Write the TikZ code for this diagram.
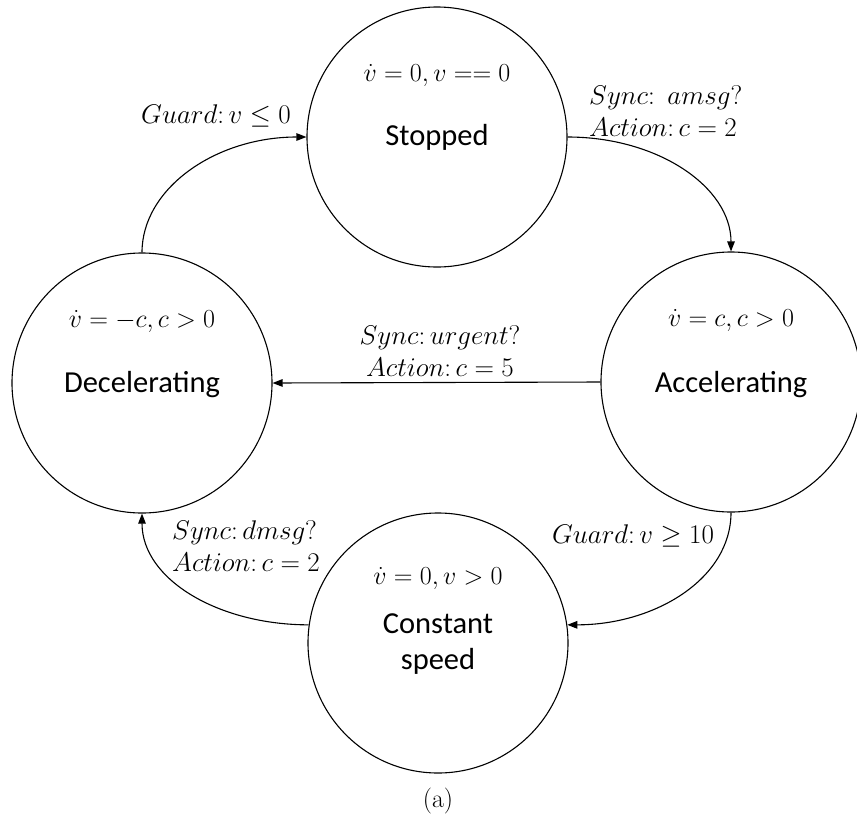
\RequirePackage{fix-cm}
\documentclass[tikz,border=0pt]{standalone}
\usepackage{fontspec}
\newfontfamily\statefont{Carlito}
\usetikzlibrary{arrows.meta,calc}
\begin{document}
\begin{tikzpicture}[x=1pt,y=-1pt,
  state/.style={draw,circle,line width=1.1pt,minimum size=260pt,inner sep=0pt},
  statename/.style={font=\statefont\fontsize{30.5}{36}\selectfont,align=center,inner sep=0pt},
  stateeq/.style={font=\fontsize{26}{30}\selectfont,inner sep=0pt},
  edgelbl/.style={font=\fontsize{27}{32}\selectfont,inner sep=0pt},
  trans/.style={line width=1.1pt,-{Triangle[length=10pt,width=7.5pt]}}]
\useasboundingbox (0,0) rectangle (857,820);

% states
\node[state] (S) at (437,137) {};
\node[state] (D) at (142,383) {};
\node[state] (A) at (731,382) {};
\node[state] (C) at (438,643) {};

% state contents: flow equation above, name at the centre
\node[stateeq] (Seq) at ($(S)+(0,-62)$) {$\dot v = 0, v == 0$};
\node[statename] (Sn) at (S) {Stopped};
\node[stateeq] (Deq) at ($(D)+(0,-62)$) {$\dot v = -c, c > 0$};
\node[statename] (Dn) at ($(D)+(0,2)$) {Decelerating};
\node[stateeq] (Aeq) at ($(A)+(0,-62)$) {$\dot v = c, c > 0$};
\node[statename] (An) at ($(A)+(0,3)$) {Accelerating};
\node[stateeq] (Ceq) at ($(C)+(0,-65)$) {$\dot v = 0, v > 0$};
\node[statename] (Cn) at ($(C)+(0,1)$) {Constant\\speed};

% transitions
\draw[trans] (D.north) .. controls ($(D.north)+(0,-64)$) and ($(S.west)+(-91,0)$) .. (S.west);
\draw[trans] (S.east) .. controls ($(S.east)+(91,0)$) and ($(A.north)+(0,-64)$) .. (A.north);
\draw[trans] (A.south) .. controls ($(A.south)+(0,66)$) and ($(C.8)+(88,0)$) .. (C.8);
\draw[trans] (C.172) .. controls ($(C.172)+(-90,0)$) and ($(D.south)+(0,66)$) .. (D.south);
\draw[trans] (A.west) -- (D.east);

% transition labels
\node[edgelbl] (g1) at (216,116) {$Guard\colon v \leq 0$};
\node[edgelbl,anchor=west,align=left] (l1) at (589,111) {$Sync\colon\ amsg?$\\$Action\colon c = 2$};
\node[edgelbl,align=center] (l2) at (440,351) {$Sync\colon urgent?$\\$Action\colon c = 5$};
\node[edgelbl,anchor=west,align=left] (l3) at (172,546) {$Sync\colon dmsg?$\\$Action\colon c = 2$};
\node[edgelbl] (g2) at (633,536) {$Guard\colon v \geq 10$};

% caption
\node[font=\fontsize{26}{30}\selectfont] (cap) at (438,801) {(a)};
\end{tikzpicture}
\end{document}
